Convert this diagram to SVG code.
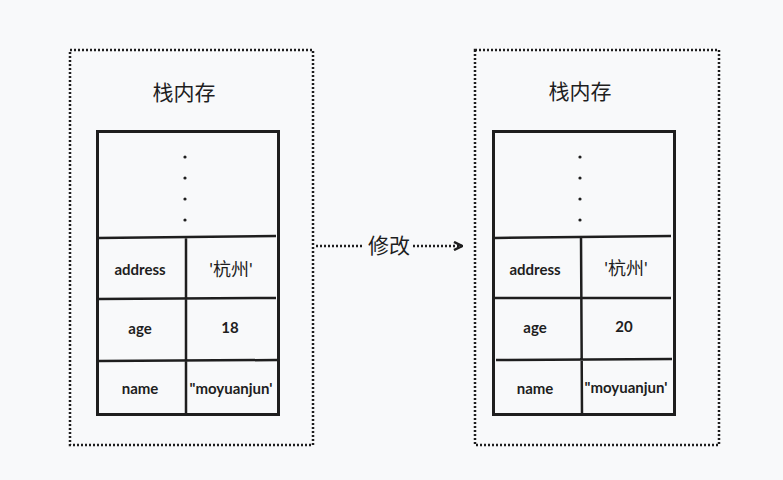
<svg xmlns="http://www.w3.org/2000/svg" width="783" height="480" viewBox="0 0 783 480">
<defs>
<style>
.frame{fill:none;stroke:#1e1e1e;stroke-width:2.5;stroke-dasharray:2 2}
.tbl{fill:none;stroke:#1e1e1e;stroke-width:3}
.ln{stroke:#1e1e1e;stroke-width:2.5;fill:none}
.title{font-family:"Noto Sans CJK SC","Noto Sans",sans-serif;font-size:21px;fill:#1e1e1e;text-anchor:middle}
.lbl{font-family:"Lato","Noto Sans CJK SC",sans-serif;font-weight:bold;font-size:15px;fill:#1e1e1e;text-anchor:middle}
.val{font-family:"Lato","Noto Sans CJK SC",sans-serif;font-size:18px;fill:#1e1e1e;text-anchor:middle}
.dot{fill:#1e1e1e}
.conn{stroke:#1e1e1e;stroke-width:2.5;stroke-dasharray:2 2;fill:none}
</style>
<marker id="ah" viewBox="0 0 10 10" refX="9" refY="5" markerWidth="10" markerHeight="10" markerUnits="userSpaceOnUse" orient="auto">
<path d="M1,1 L9,5 L1,9" fill="none" stroke="#1e1e1e" stroke-width="2.5"/>
</marker>
</defs>
<rect width="783" height="480" fill="#f8f9fa"/>
<g id="left-stack">
<rect class="frame" x="70" y="50" width="243" height="395"/>
<text class="title" x="184" y="100">栈内存</text>
<rect class="tbl" x="97.5" y="131.5" width="181" height="283"/>
<circle class="dot" cx="185" cy="157" r="1.6"/><circle class="dot" cx="185" cy="178" r="1.6"/><circle class="dot" cx="185" cy="199" r="1.6"/><circle class="dot" cx="185" cy="220" r="1.6"/>
<path class="ln" d="M98,238 L276,236 M98,299 L276,298 M99,361 L277,360 M186,236 L186,414"/>
<text class="lbl" x="140" y="275">address</text>
<text class="val" x="231" y="276">'杭州'</text>
<text class="lbl" x="140" y="334">age</text>
<text class="lbl" x="230" y="333">18</text>
<text class="lbl" x="140" y="394">name</text>
<text class="lbl" x="231" y="394">"moyuanjun'</text>
</g>
<g id="right-stack">
<rect class="frame" x="475" y="50" width="244" height="395"/>
<text class="title" x="580" y="99">栈内存</text>
<rect class="tbl" x="493.5" y="131.5" width="181" height="283"/>
<circle class="dot" cx="580" cy="157" r="1.6"/><circle class="dot" cx="580" cy="178" r="1.6"/><circle class="dot" cx="580" cy="199" r="1.6"/><circle class="dot" cx="580" cy="220" r="1.6"/>
<path class="ln" d="M495,238 L671,236 M495,298 L671,298 M496,360 L672,359 M581,236 L582,414"/>
<text class="lbl" x="535" y="275">address</text>
<text class="val" x="626" y="275">'杭州'</text>
<text class="lbl" x="535" y="333">age</text>
<text class="lbl" x="624" y="332">20</text>
<text class="lbl" x="535" y="394">name</text>
<text class="lbl" x="626" y="393">"moyuanjun'</text>
</g>
<g id="connectors">
<path class="conn" d="M316,246 L364,246"/>
<path class="conn" d="M413,246 L462,246" marker-end="url(#ah)"/>
<text class="title" x="389" y="253">修改</text>
</g>
</svg>
